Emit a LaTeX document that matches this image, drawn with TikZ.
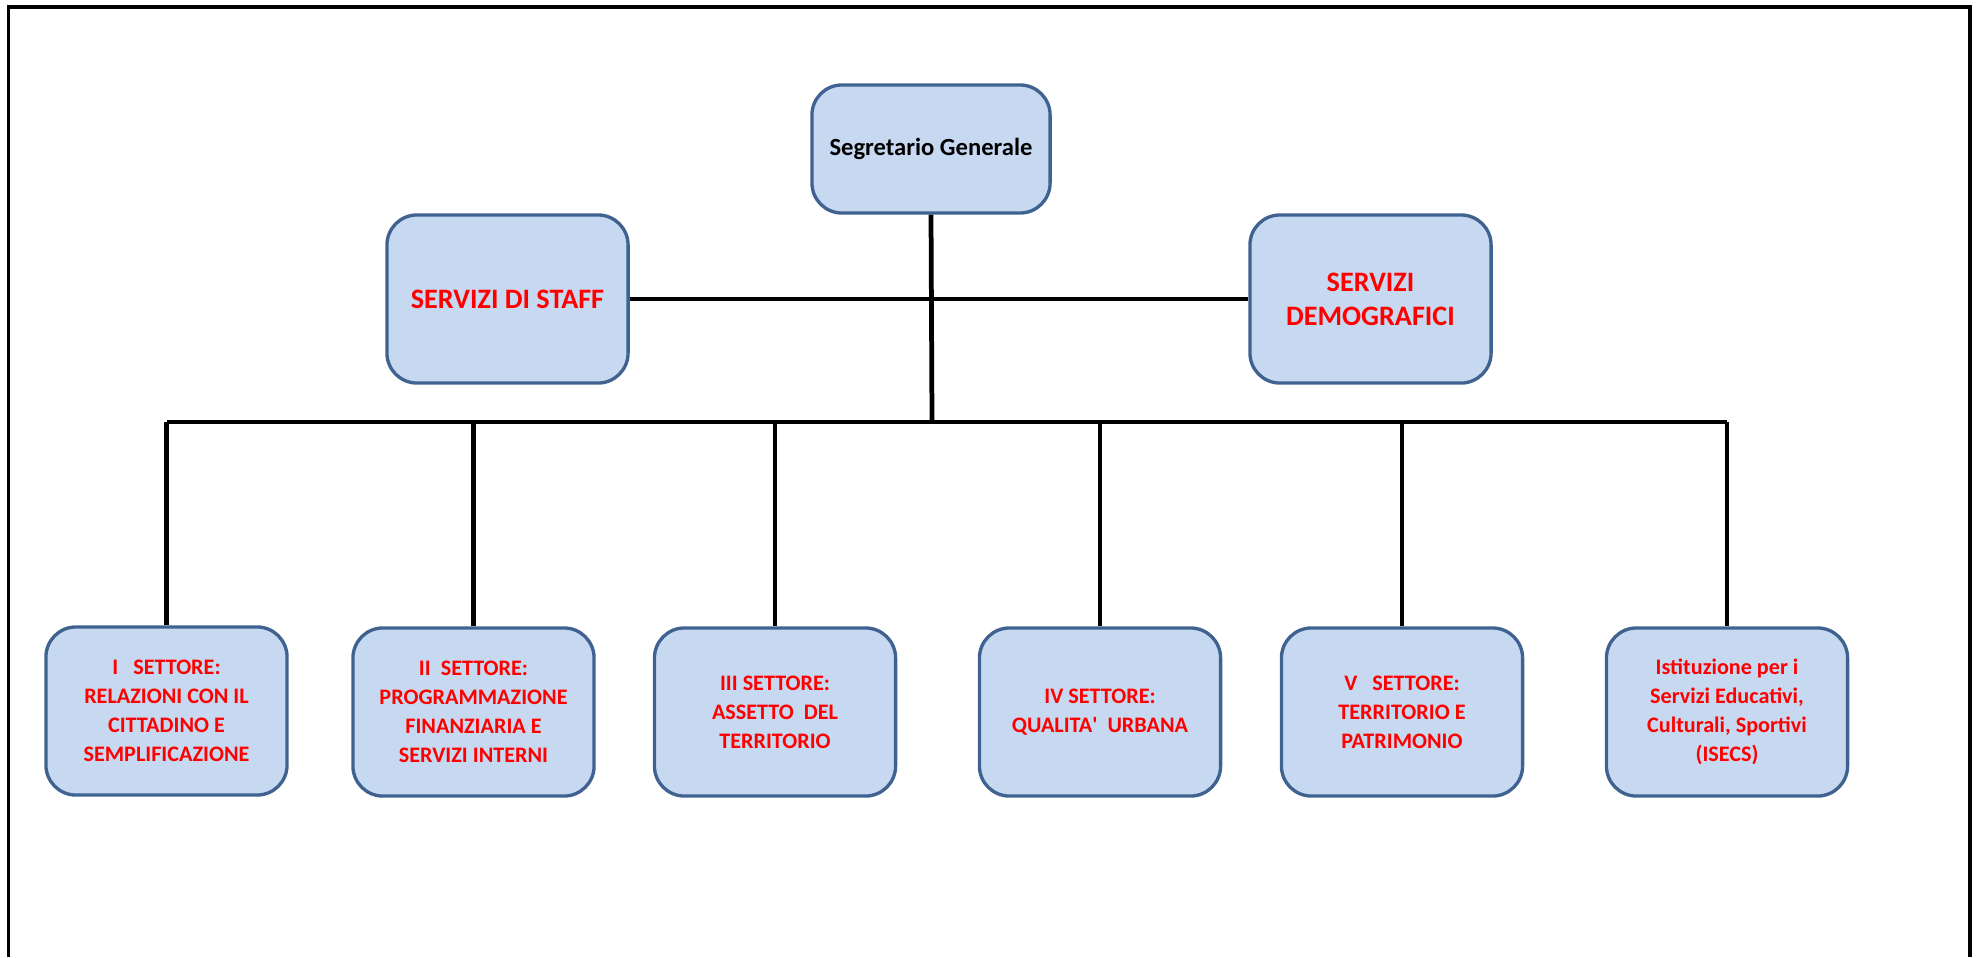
\documentclass[tikz,border=0pt]{standalone}
\usepackage{fontspec}
\setmainfont{Carlito}
\usetikzlibrary{calc}
\definecolor{BoxFill}{HTML}{C6D9F1}
\definecolor{BoxBorder}{HTML}{3F6290}
\definecolor{LabelRed}{HTML}{FF0000}

\begin{document}
\begin{tikzpicture}[x = 0.01cm, y = -0.01cm]%
    %
    \def\boxwidth{2.41cm}%
    \def\boxheight{1.68cm}%
    %
    \tikzstyle{office} = [draw = BoxBorder, line width = 0.95pt, fill = BoxFill, rounded corners = 0.3cm, align = center, inner sep = 0pt, minimum width = \boxwidth, minimum height = \boxheight, text = LabelRed]%
    \tikzstyle{head} = [office, minimum width = 2.38cm, minimum height = 1.28cm, text = black, font = \fontsize{7}{8.5}\selectfont\bfseries]%
    \tikzstyle{staffbox} = [office, font = \fontsize{8}{9.7}\selectfont\bfseries]%
    \tikzstyle{sector} = [office, font = \fontsize{6.3}{8.2}\selectfont\bfseries]%
    \tikzstyle{link} = [draw = black, line width = 1.35pt]%
    \tikzstyle{frame} = [draw = black, line width = 0.9pt]%
    %
    % Page
    \useasboundingbox (0, 0) rectangle (1979, 957);%
    \draw [frame] (8.5, 957) -- (8.5, 7) -- (1970, 7) -- (1970, 957);%
    %
    \coordinate (bus) at (932, 422);%
    %
    % Top
    \node (seg) [head] at (931, 149) {Segretario Generale};%
    \node (staff) [staffbox] at (507.5, 299) {SERVIZI DI STAFF};%
    \node (demo) [staffbox] at (1370.5, 299) {SERVIZI\\DEMOGRAFICI};%
    %
    % Sectors
    \node (s1) [sector] at (166.5, 711) {I\ \ \ SETTORE:\\RELAZIONI CON IL\\CITTADINO E\\SEMPLIFICAZIONE};%
    \node (s2) [sector] at (473.5, 712) {II\ \ SETTORE:\\PROGRAMMAZIONE\\FINANZIARIA E\\SERVIZI INTERNI};%
    \node (s3) [sector] at (775, 712) {III SETTORE:\\ASSETTO\ \ DEL\\TERRITORIO};%
    \node (s4) [sector] at (1100, 712) {IV SETTORE:\\QUALITA\textquotesingle\ \ URBANA};%
    \node (s5) [sector] at (1402, 712) {V\ \ \ SETTORE:\\TERRITORIO E\\PATRIMONIO};%
    \node (s6) [sector] at (1727, 712) {Istituzione per i\\Servizi Educativi,\\Culturali, Sportivi\\(ISECS)};%
    %
    % Links
    \draw [link] (seg.south) -- (bus);%
    \draw [link] (staff.east) -- (demo.west);%
    \draw [link] (s1.north |- bus) -- (s6.north |- bus);%
    \draw [link] (s1.north) -- (s1.north |- bus);%
    \draw [link] (s2.north) -- (s2.north |- bus);%
    \draw [link] (s3.north) -- (s3.north |- bus);%
    \draw [link] (s4.north) -- (s4.north |- bus);%
    \draw [link] (s5.north) -- (s5.north |- bus);%
    \draw [link] (s6.north) -- (s6.north |- bus);%
    %
\end{tikzpicture}
\end{document}
